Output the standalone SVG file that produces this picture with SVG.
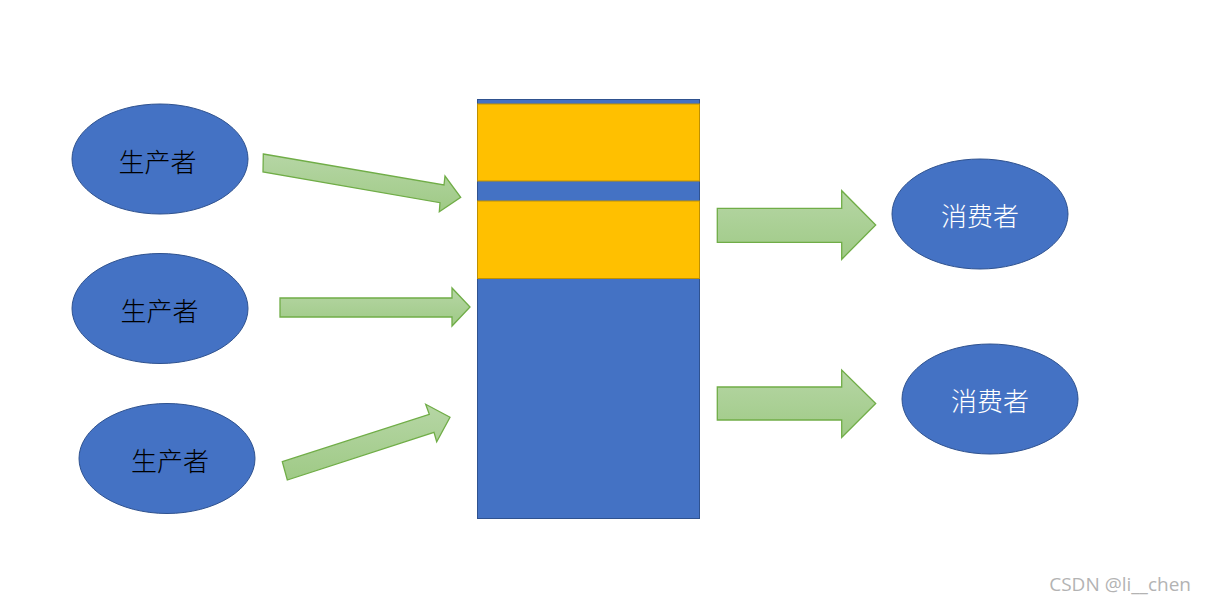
<svg xmlns="http://www.w3.org/2000/svg" width="1206" height="604" viewBox="0 0 1206 604">
<defs>
<linearGradient id="g" x1="0" y1="0" x2="0" y2="1">
<stop offset="0" stop-color="#b6d6a5"/>
<stop offset="1" stop-color="#9fca86"/>
</linearGradient>
<style>
.node ellipse{fill:#4472c4;stroke:#2f528f;stroke-width:1}
.lbl{font-family:"Noto Sans CJK SC","Liberation Sans",sans-serif;font-size:26px;font-weight:300;text-anchor:middle;dominant-baseline:central}
.dark{fill:#000}
.light{fill:#fff}
.arr{fill:url(#g);stroke:#70ad47;stroke-width:1.3;stroke-linejoin:miter}
.blue{fill:#4472c4}
.yel{fill:#ffc000;stroke:#bf9000;stroke-width:1}
</style>
</defs>
<rect width="1206" height="604" fill="#fff"/>
<g id="producer1" class="node"><ellipse cx="160" cy="159" rx="88" ry="55"/><text class="lbl dark" x="157.5" y="160">生产者</text></g>
<g id="producer2" class="node"><ellipse cx="160" cy="308.5" rx="88" ry="55"/><text class="lbl dark" x="159.5" y="309">生产者</text></g>
<g id="producer3" class="node"><ellipse cx="167" cy="458.5" rx="88" ry="55"/><text class="lbl dark" x="170" y="459">生产者</text></g>
<g id="consumer1" class="node"><ellipse cx="980" cy="214" rx="88" ry="55"/><text class="lbl light" x="980" y="214">消费者</text></g>
<g id="consumer2" class="node"><ellipse cx="990" cy="399" rx="88" ry="55"/><text class="lbl light" x="990" y="399">消费者</text></g>
<g id="buffer">
<rect class="blue" x="477.5" y="99.5" width="222" height="419" stroke="#2f528f" stroke-width="1"/>
<rect class="yel" x="477.5" y="104" width="222" height="77"/>
<rect class="yel" x="477.5" y="201" width="222" height="77.5"/>
</g>
<g id="connectors">
<polygon class="arr" points="263.3,154 444,185 445,176 460.7,197.3 439.3,211.7 440,202.7 263,172"/>
<polygon class="arr" points="280,298 452,298 452,288 470,307 452,326 452,317 280,317"/>
<polygon class="arr" points="282.3,461.7 429.3,414.3 425.7,404.3 450,417.3 436.7,441.7 434,432.3 287.3,480"/>
<polygon class="arr" points="717.3,208.3 841.7,208.3 841.7,190.7 875.7,225 841.7,259.3 841.7,242.3 717.3,242.3"/>
<polygon class="arr" points="717.3,387 841.7,387 841.7,370 875.7,403.5 841.7,437.5 841.7,420 717.3,420"/>
</g>
<text x="1191" y="591" text-anchor="end" font-family="'Open Sans','Noto Sans',sans-serif" font-size="19" fill="#b3b3b3">CSDN @li__chen</text>
</svg>
